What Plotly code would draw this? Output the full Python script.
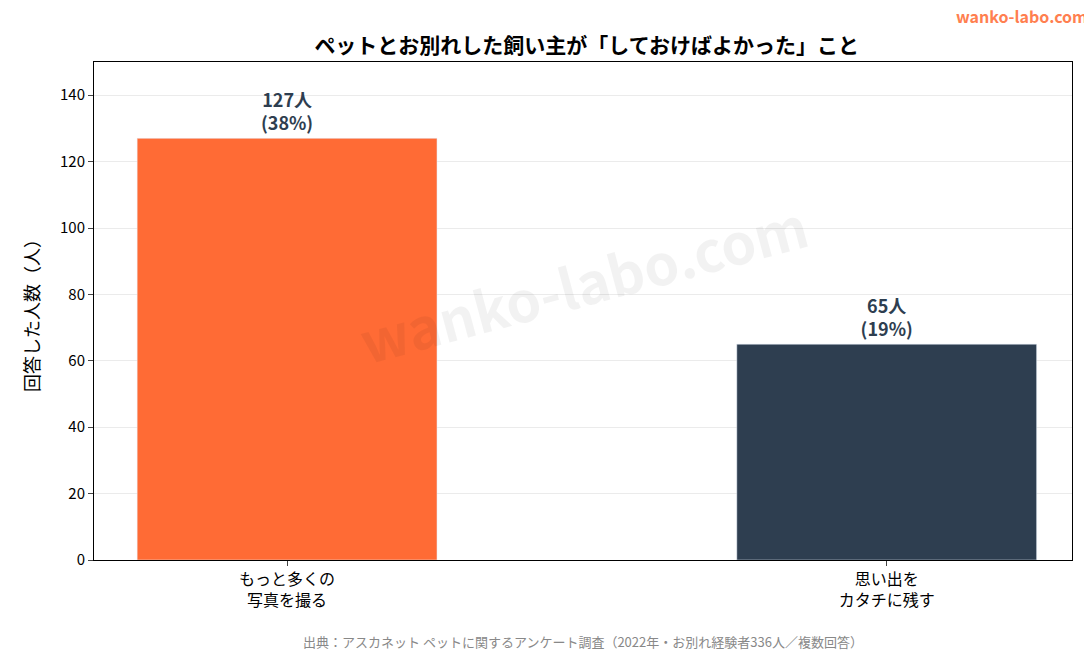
import plotly.graph_objects as go

categories = ["もっと多くの<br>写真を撮る", "思い出を<br>カタチに残す"]
counts = [127, 65]
percents = [38, 19]
colors = ["#FF6B35", "#2E3E50"]

font = "Noto Sans CJK JP"

fig = go.Figure(go.Bar(
    x=[0, 1],
    y=counts,
    width=0.5,
    marker=dict(color=colors),
    text=[f"<b>{c}人<br>({p}%)</b>" for c, p in zip(counts, percents)],
    textposition="outside",
    textfont=dict(size=18, color="#2E3E50", family=font),
    cliponaxis=False,
))

fig.update_layout(
    width=1092, height=650,
    margin=dict(l=86, r=28, t=54, b=98, autoexpand=False),
    paper_bgcolor="white", plot_bgcolor="white",
    font=dict(family=font, size=15, color="black"),
    title=dict(text="<b>ペットとお別れした飼い主が「しておけばよかった」こと</b>",
               x=0.53, xanchor="center", y=0.953, font=dict(size=21, color="black")),
    showlegend=False,
    xaxis=dict(range=[-0.322, 1.309], tickvals=[0, 1], ticktext=categories,
               showline=True, linecolor="black", mirror=True, ticks="outside",
               tickfont=dict(size=16)),
    yaxis=dict(range=[0, 150], dtick=20, showline=True, linecolor="black", mirror=True,
               ticks="outside", gridcolor="#ebebeb",
               title=dict(text="回答した人数（人）", font=dict(size=18))),
    annotations=[
        dict(text="<b>wanko-labo.com</b>", x=0.5, y=0.56, xref="paper", yref="paper",
             showarrow=False, textangle=-15, font=dict(size=56, color="rgba(0,0,0,0.05)"),
             xanchor="center", yanchor="middle"),
        dict(text="<b>wanko-labo.com</b>", x=1, y=1, xref="paper", yref="paper",
             xshift=18, yshift=32, showarrow=False, xanchor="right", yanchor="bottom",
             font=dict(size=16, color="#FF7F50")),
        dict(text="出典：アスカネット ペットに関するアンケート調査（2022年・お別れ経験者336人／複数回答）",
             x=0.5, y=0, xref="paper", yref="paper", yshift=-70, showarrow=False,
             yanchor="top", font=dict(size=13, color="#888888")),
    ],
)

fig.write_html("out.html")
